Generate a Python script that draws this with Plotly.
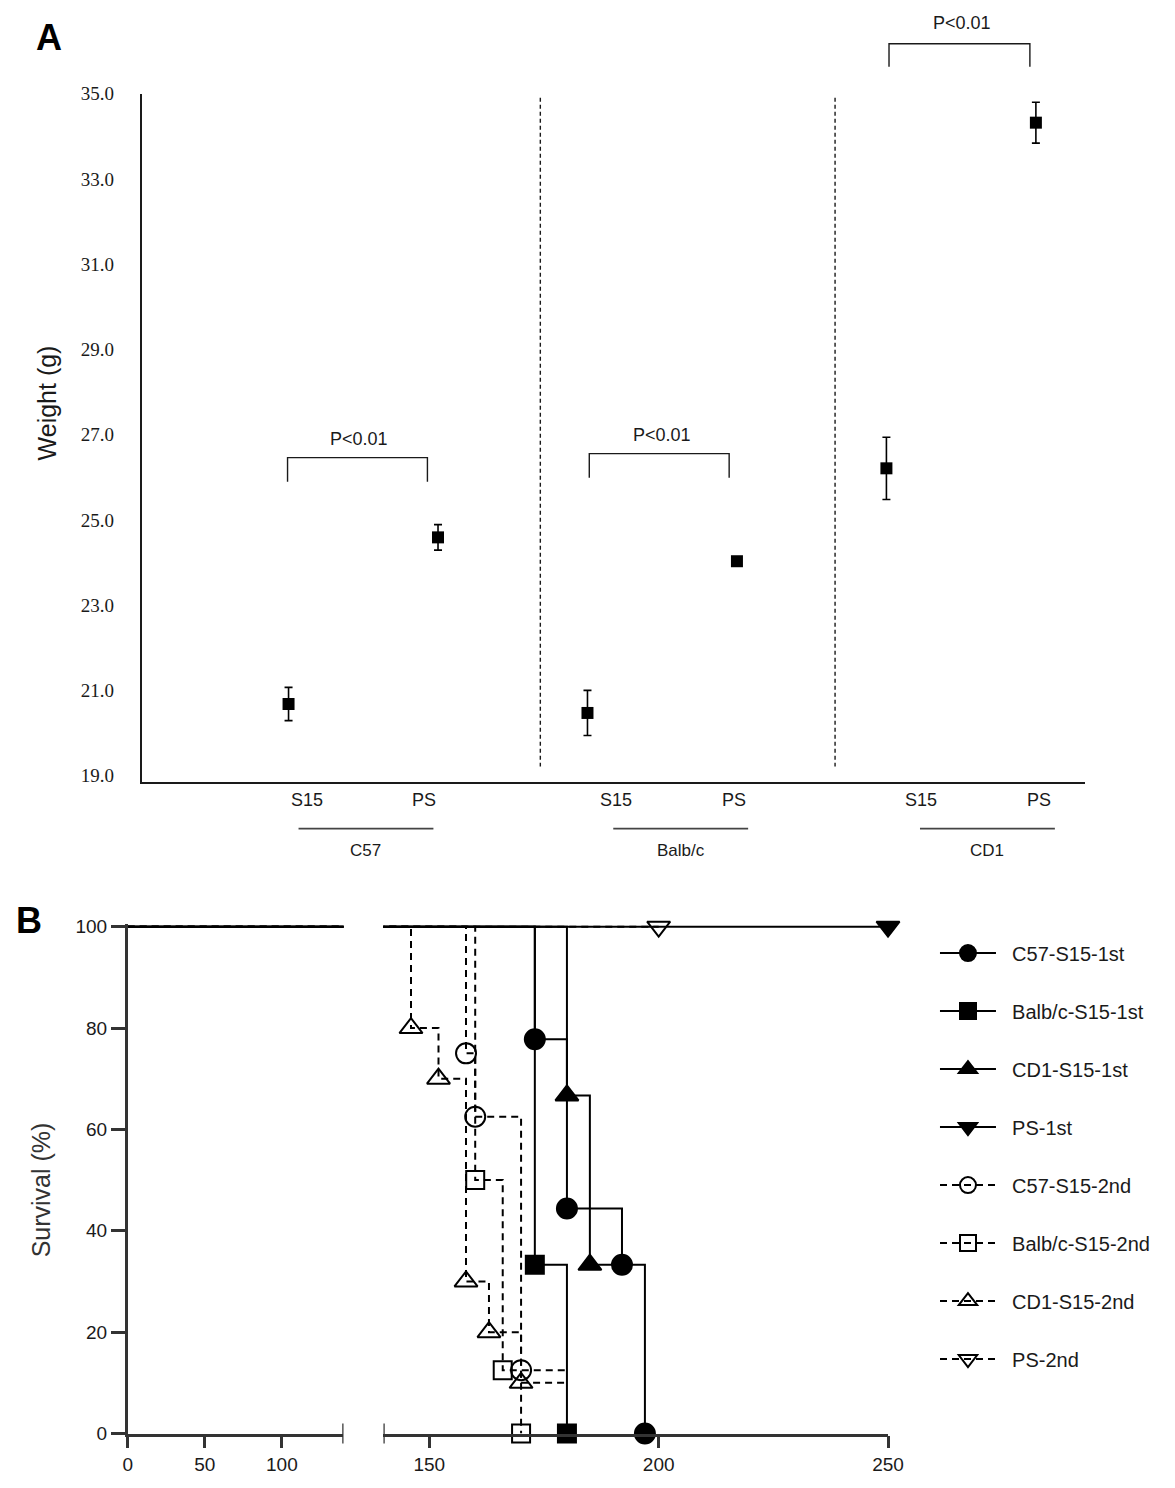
import plotly.graph_objects as go

# --- Panel A: body weight (g), mean +/- SEM ---
strains = ['C57', 'Balb/c', 'CD1']
treatments = ['S15', 'PS']
weight_mean = [20.68, 24.59, 20.47, 24.03, 26.21, 34.32]
weight_sem = [0.39, 0.30, 0.53, 0.08, 0.73, 0.48]
weight_ticks = [19, 21, 23, 25, 27, 29, 31, 33, 35]
p_label = 'P<0.01'

# --- Panel B: survival (%) ---
surv_names = ['C57-S15-1st', 'Balb/c-S15-1st', 'CD1-S15-1st', 'PS-1st',
              'C57-S15-2nd', 'Balb/c-S15-2nd', 'CD1-S15-2nd', 'PS-2nd']
event_days = [
    [173, 180, 192, 197],
    [173, 180],
    [180, 185],
    [250],
    [158, 160, 170],
    [160, 166, 170],
    [146, 152, 158, 163, 170],
    [200],
]
event_surv = [
    [77.8, 44.4, 33.3, 0],
    [33.3, 0],
    [66.7, 33.3],
    [100],
    [75, 62.5, 12.5],
    [50, 12.5, 0],
    [80, 70, 30, 20, 10],
    [100],
]
last_day = [197, 180, 192, 250, 180, 170, 180, 200]
surv_ticks = [0, 20, 40, 60, 80, 100]
day_ticks_left = [0, 50, 100]
day_ticks_right = [150, 200, 250]

# styles
symbols = ['circle', 'square', 'triangle-up', 'triangle-down',
           'circle-open', 'square-open', 'triangle-up-open', 'triangle-down-open']
sizes = [20, 18, 20, 20, 20, 18, 20, 20]
dashes = ['solid'] * 4 + ['7px,5px'] * 4

W, H = 1175, 1488
# the snapshot comes out slightly shrunk, so pixel targets are corrected for it
SX, OX = 0.983, 4.2
SY, OY = 0.986, 9.3


def fx(p):
    return (p - OX) / SX / W


def fy(p):
    return 1 - (p - OY) / SY / H


def label(text, x, y, size, color='#1a1a1a', family='Arial', angle=0):
    # centred text placed by pixel position
    return dict(text=text, x=fx(x), y=fy(y), xref='paper', yref='paper',
                xanchor='center', yanchor='middle', showarrow=False,
                textangle=angle, font=dict(family=family, size=size, color=color))


INK = '#1a1a1a'
AX = '#333333'

fig = go.Figure()

# ---------- Panel A ----------
cats = [f'{s} {t}' for s in strains for t in treatments]
fig.add_trace(go.Scatter(
    x=cats, y=weight_mean, mode='markers',
    marker=dict(symbol='square', size=12, color='black'),
    error_y=dict(type='data', array=weight_sem, visible=True,
                 color='black', thickness=1.6, width=4),
    xaxis='x', yaxis='y', showlegend=False, cliponaxis=False,
))

# ---------- Panel B ----------
# legend proxies first so the legend order follows surv_names
for i, name in enumerate(surv_names):
    fig.add_trace(go.Scatter(
        x=[None], y=[None], mode='lines+markers', name='\u00a0\u00a0' + name,
        legendgroup=name,
        line=dict(color='black', width=2, dash=dashes[i]),
        marker=dict(symbol=symbols[i], size=16, color='black',
                    line=dict(color='black', width=2)),
        xaxis='x3', yaxis='y3',
    ))

for i, name in enumerate(surv_names):
    xs = [0] + event_days[i] + [last_day[i]]
    ys = [100] + event_surv[i] + [event_surv[i][-1]]
    for xa, ya in (('x2', 'y2'), ('x3', 'y3')):
        fig.add_trace(go.Scatter(
            x=xs, y=ys, mode='lines', line_shape='hv',
            line=dict(color='black', width=2, dash=dashes[i]),
            xaxis=xa, yaxis=ya, showlegend=False, legendgroup=name,
            hoverinfo='skip',
        ))
    fig.add_trace(go.Scatter(
        x=event_days[i], y=event_surv[i], mode='markers',
        marker=dict(symbol=symbols[i], size=sizes[i], color='black',
                    line=dict(color='black', width=2)),
        xaxis='x3', yaxis='y3', showlegend=False, legendgroup=name,
        cliponaxis=False, name=name,
    ))

shapes = []
annotations = []

# dashed separators between strains
for sx in (540, 835):
    shapes.append(dict(type='line', xref='paper', yref='paper',
                       x0=fx(sx), x1=fx(sx), y0=fy(97), y1=fy(766),
                       line=dict(color=INK, width=1.4, dash='4px,3px')))

# significance brackets
for (xl, xr, yt, yb, tx, ty) in [(287, 427, 457, 481, 359, 438),
                                 (589, 729, 453, 477, 662, 434),
                                 (889, 1030, 43, 66, 962, 22)]:
    shapes.append(dict(type='path', xref='paper', yref='paper',
                       path=f'M {fx(xl)},{fy(yb)} L {fx(xl)},{fy(yt)} '
                            f'L {fx(xr)},{fy(yt)} L {fx(xr)},{fy(yb)}',
                       line=dict(color=INK, width=1.4)))
    annotations.append(label(p_label, tx, ty, 18))

# treatment labels, strain underlines and names
for k, lx in enumerate([306, 424, 616, 734, 921, 1039]):
    annotations.append(label(treatments[k % 2], lx, 799, 18))
for k, (x0, x1) in enumerate([(298, 433), (613, 748), (920, 1055)]):
    shapes.append(dict(type='line', xref='paper', yref='paper',
                       x0=fx(x0), x1=fx(x1), y0=fy(828), y1=fy(828),
                       line=dict(color='#444444', width=1.6)))
    annotations.append(label(strains[k], (x0 + x1) / 2, 850, 17))

# axis break marks for panel B
for xa in ('x2', 'x3'):
    shapes.append(dict(type='line', xref=xa, yref='paper', x0=140, x1=140,
                       y0=fy(1443), y1=fy(1423), line=dict(color=AX, width=2.5)))

# panel letters and axis titles
annotations += [
    label('<b>A</b>', 48, 37, 36, color='black'),
    label('<b>B</b>', 28, 920, 36, color='black'),
    label('Weight (g)', 46, 402, 25, angle=-90),
    label('Survival (%)', 40, 1189, 25, color='#333333', angle=-90),
]

px_per_g = (775 - 93) / 16
spacing = (1036 - 288) / 5

fig.update_layout(
    width=W, height=H,
    margin=dict(l=0, r=0, t=0, b=0),
    paper_bgcolor='white', plot_bgcolor='white',
    shapes=shapes, annotations=annotations,
    xaxis=dict(domain=[fx(141), fx(1085)], anchor='y', type='category',
               range=[-(288 - 141) / spacing, 5 + (1085 - 1036) / spacing],
               showticklabels=False, ticks='', showgrid=False, zeroline=False,
               showline=True, linecolor=INK, linewidth=1.6),
    yaxis=dict(domain=[fy(781), fy(93)], anchor='x',
               range=[35 - (781 - 93) / px_per_g, 35],
               tickvals=weight_ticks, ticktext=[f'{v:.1f}' for v in weight_ticks],
               tickfont=dict(family='Liberation Serif', size=19, color=INK),
               ticks='', ticklabelstandoff=22, showgrid=False, zeroline=False,
               showline=True, linecolor=INK, linewidth=1.6),
    xaxis2=dict(domain=[fx(127), fx(343)], anchor='y2', range=[0, 140],
                tickvals=day_ticks_left, ticks='outside', ticklen=12, tickwidth=2.5,
                tickcolor=AX, showline=True, linecolor=AX, linewidth=2.5,
                tickfont=dict(family='Arial', size=19, color=INK),
                showgrid=False, zeroline=False),
    yaxis2=dict(domain=[fy(1433), fy(923.5)], anchor='x2', range=[0, 100.5],
                tickvals=surv_ticks, ticks='outside', ticklen=14, tickwidth=2.5,
                tickcolor=AX, showline=True, linecolor=AX, linewidth=2.5,
                tickfont=dict(family='Arial', size=19, color=INK),
                showgrid=False, zeroline=False),
    xaxis3=dict(domain=[fx(383), fx(888)], anchor='y3', range=[140, 250],
                tickvals=day_ticks_right, ticks='outside', ticklen=12, tickwidth=2.5,
                tickcolor=AX, showline=True, linecolor=AX, linewidth=2.5,
                tickfont=dict(family='Arial', size=19, color=INK),
                showgrid=False, zeroline=False),
    yaxis3=dict(domain=[fy(1433), fy(923.5)], anchor='x3', matches='y2',
                range=[0, 100.5], visible=False),
    legend=dict(x=fx(935), y=fy(933), xanchor='left', yanchor='top',
                font=dict(family='Arial', size=20, color=INK),
                itemwidth=56, tracegroupgap=29, bgcolor='rgba(0,0,0,0)'),
)

# the page is exactly the figure size, so drop the default body margin
fig.write_html('out.html', config={'displayModeBar': False},
               post_script="document.body.style.margin = '0';")
